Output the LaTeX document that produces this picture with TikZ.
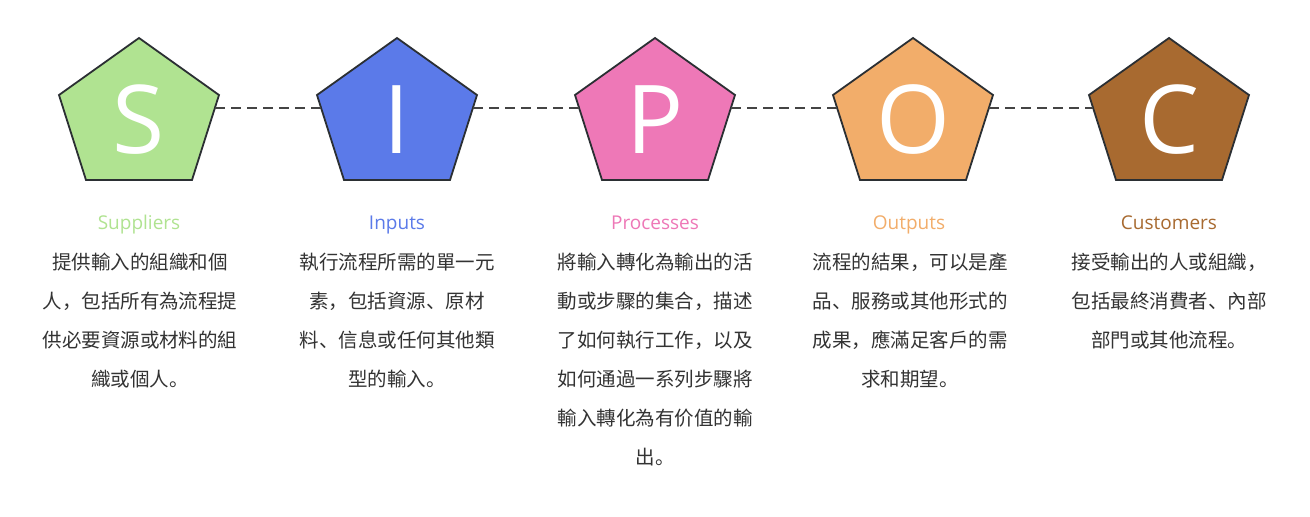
\documentclass[tikz,border=0pt]{standalone}
\usepackage{fontspec}
\setmainfont{Open Sans}
\newfontfamily\letterfont{Open Sans}
\newfontfamily\cjk{Noto Sans CJK SC}
\definecolor{cS}{HTML}{B0E391}
\definecolor{cI}{HTML}{5B7AE9}
\definecolor{cP}{HTML}{EE78B7}
\definecolor{cO}{HTML}{F2AD6A}
\definecolor{cC}{HTML}{A86A30}
\definecolor{edge}{HTML}{2B2F33}
\definecolor{bodytxt}{HTML}{333333}
\definecolor{dashc}{HTML}{444444}
\tikzset{
  pentline/.style={draw=edge, line width=1.8pt, line join=miter},
  letter/.style={text=white, font=\letterfont\fontsize{95}{95}\selectfont, inner sep=0pt, anchor=base},
  title/.style={font=\fontsize{19}{22}\selectfont, inner sep=0pt, anchor=base},
  body/.style={text=bodytxt, font=\cjk\fontsize{19.5}{39}\selectfont, align=center, inner sep=0pt, anchor=base},
  link/.style={draw=dashc, line width=2.4pt, dash pattern=on 10pt off 6pt}
}
\newcommand\pentagon[4]{%
  \filldraw[pentline, fill=#3] (#2,38) -- (#2+80,95) -- (#2+53,180) -- (#2-53,180) -- (#2-80,95) -- cycle;
  \node[letter] (#1) at (#2,153) {#4};
  \coordinate (#1-l) at (#2-76,108);
  \coordinate (#1-r) at (#2+76,108);
}
\begin{document}
\begin{tikzpicture}[x=1pt,y=-1pt]
\useasboundingbox (0,0) rectangle (1310,517);
\fill[white] (0,0) rectangle (1310,517);
\pentagon{S}{139}{cS}{S}
\pentagon{I}{397}{cI}{I}
\pentagon{P}{655}{cP}{P}
\pentagon{O}{913}{cO}{O}
\pentagon{C}{1169}{cC}{C}
\draw[link] (S-r) -- (I-l);
\draw[link] (I-r) -- (P-l);
\draw[link] (P-r) -- (O-l);
\draw[link] (O-r) -- (C-l);
\node[title, text=cS] (tS) at (139,229) {Suppliers};
\node[title, text=cI] (tI) at (397,229) {Inputs};
\node[title, text=cP] (tP) at (655,229) {Processes};
\node[title, text=cO] (tO) at (909,229) {Outputs};
\node[title, text=cC] (tC) at (1169,229) {Customers};
% base anchor = baseline of the last line
\node[body] (bS) at (140,386) {提供輸入的組織和個\\人，包括所有為流程提\\供必要資源或材料的組\\織或個人。};
\node[body] (bI) at (397,386) {執行流程所需的單一元\\素，包括資源、原材\\料、信息或任何其他類\\型的輸入。};
\node[body] (bP) at (655,464) {將輸入轉化為輸出的活\\動或步驟的集合，描述\\了如何執行工作，以及\\如何通過一系列步驟將\\輸入轉化為有价值的輸\\出。};
\node[body] (bO) at (910,386) {流程的結果，可以是產\\品、服務或其他形式的\\成果，應滿足客戶的需\\求和期望。};
\node[body] (bC) at (1169,347) {接受輸出的人或組織，\\包括最終消費者、內部\\部門或其他流程。};
\end{tikzpicture}
\end{document}
